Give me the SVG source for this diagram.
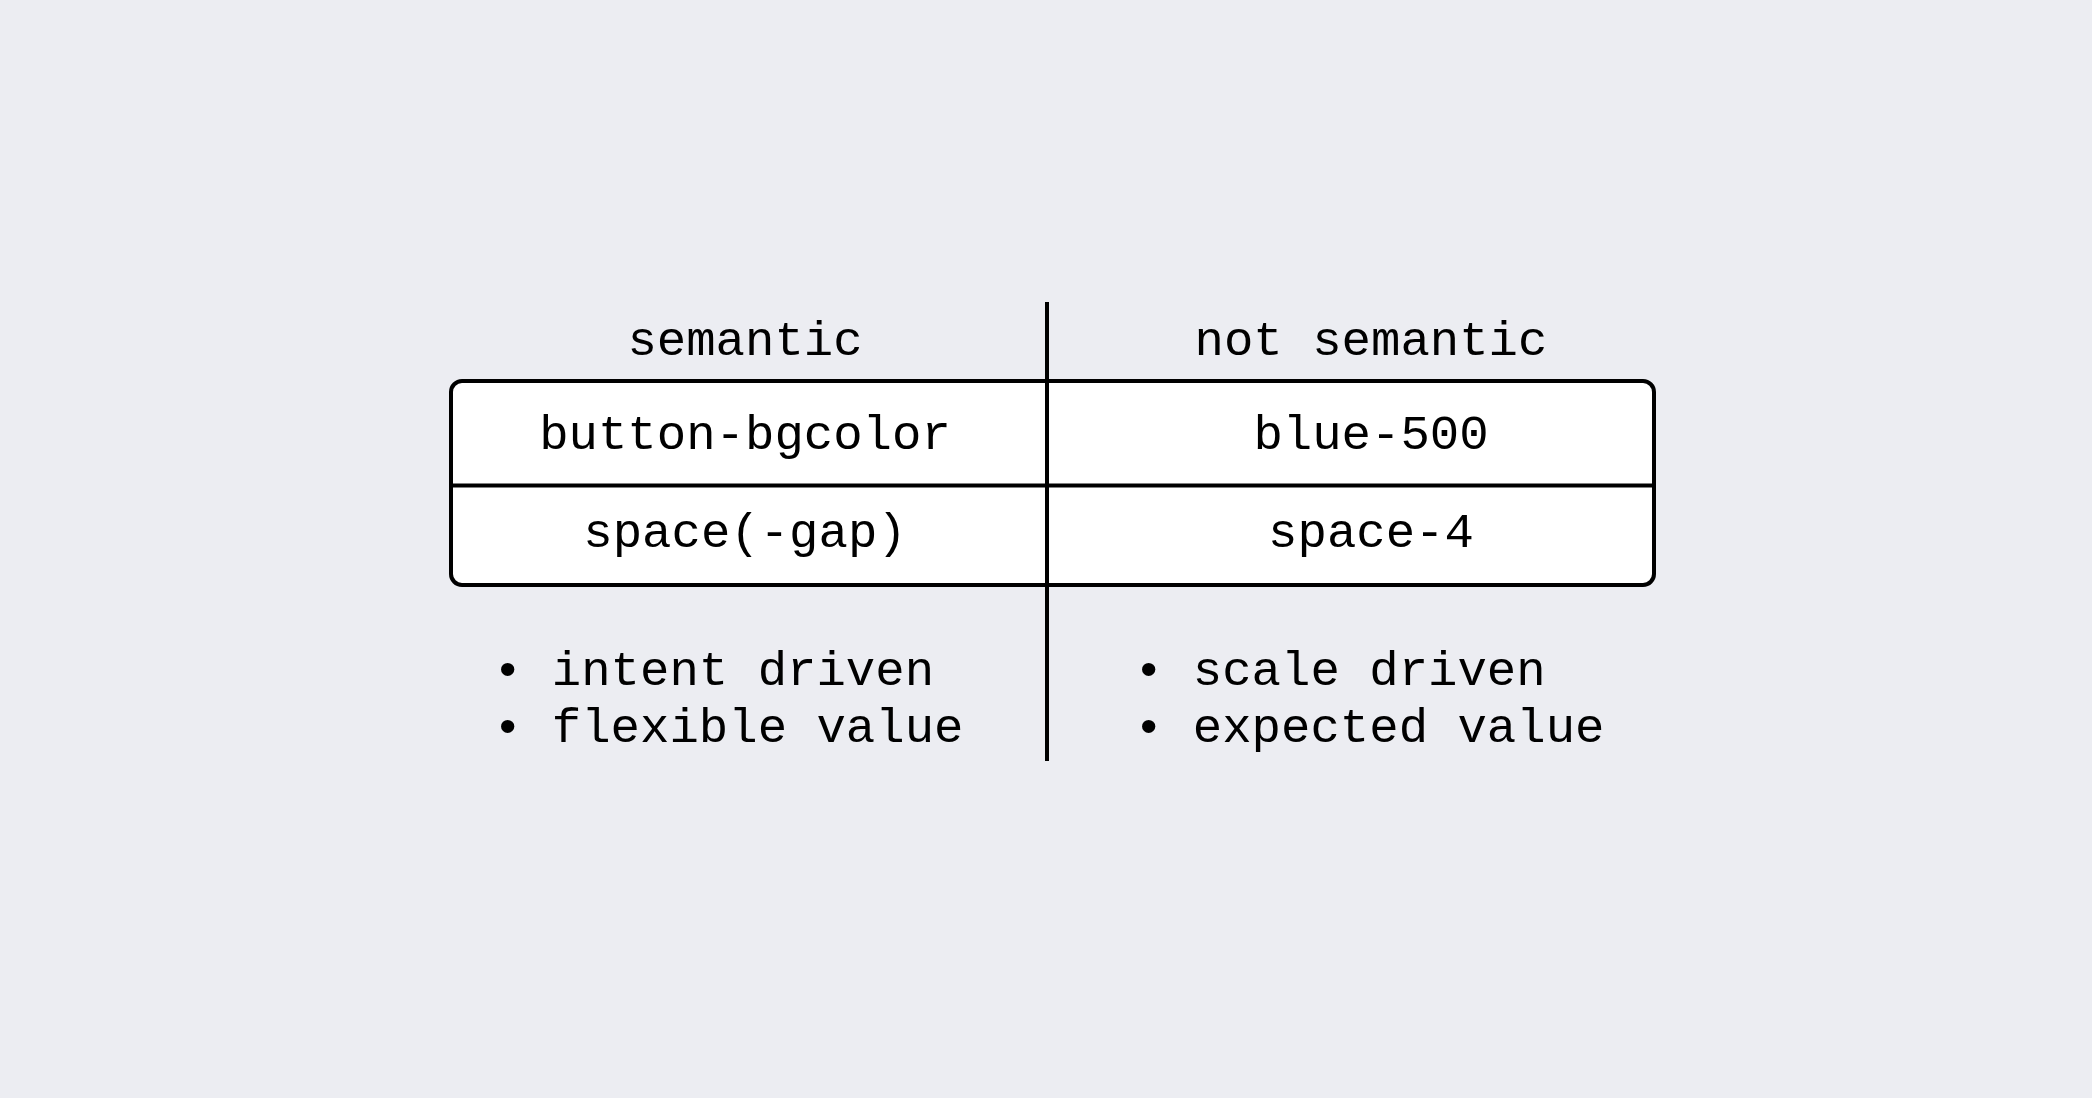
<svg xmlns="http://www.w3.org/2000/svg" width="2092" height="1098" viewBox="0 0 2092 1098">
<style>
.t{font-family:"Liberation Mono","DejaVu Sans Mono",monospace;font-size:49px;fill:#000}
.c{text-anchor:middle}
.ln{stroke:#000;stroke-width:4;fill:none}
</style>
<rect width="2092" height="1098" fill="#ECEDF2"/>
<g id="table">
<rect x="451" y="381" width="1203" height="204" rx="11" ry="11" fill="#fff" stroke="#000" stroke-width="4"/>
</g>
<g id="connectors">
<line class="ln" x1="451" y1="485.5" x2="1654" y2="485.5"/>
<line class="ln" x1="1047" y1="302" x2="1047" y2="761"/>
</g>
<g id="header-semantic"><text class="t c" x="745" y="355">semantic</text></g>
<g id="header-not-semantic"><text class="t c" x="1371" y="355">not semantic</text></g>
<g id="cell-button-bgcolor"><text class="t c" x="745" y="449">button-bgcolor</text></g>
<g id="cell-blue-500"><text class="t c" x="1371" y="449">blue-500</text></g>
<g id="cell-space-gap"><text class="t c" x="745" y="547">space(-gap)</text></g>
<g id="cell-space-4"><text class="t c" x="1371" y="547">space-4</text></g>
<g id="notes-semantic">
<text class="t" x="493" y="685">• intent driven</text>
<text class="t" x="493" y="742">• flexible value</text>
</g>
<g id="notes-not-semantic">
<text class="t" x="1134" y="685">• scale driven</text>
<text class="t" x="1134" y="742">• expected value</text>
</g>
</svg>
